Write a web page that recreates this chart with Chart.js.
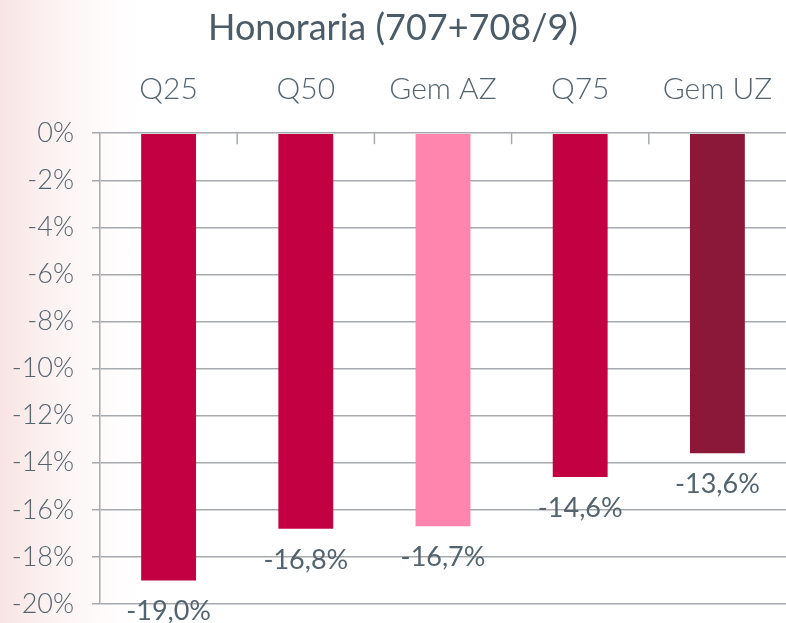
<!DOCTYPE html>
<html>
<head>
<meta charset="utf-8">
<script src="https://cdn.jsdelivr.net/npm/chart.js@4"></script>
<style>
  html, body { margin: 0; padding: 0; }
  body {
    width: 786px; height: 623px; overflow: hidden;
    background: linear-gradient(to right, #f8e4e4 0%, #fcf1f1 6%, #fefafa 12%, #ffffff 18%);
  }
  #wrap { position: relative; width: 786px; height: 623px; }
</style>
</head>
<body>
<div id="wrap"><canvas id="honChart"></canvas></div>
<script>
// Honoraria (707+708/9) - verandering per groep

const categories = ['Q25', 'Q50', 'Gem AZ', 'Q75', 'Gem UZ'];
const changes = [-19.0, -16.8, -16.7, -14.6, -13.6];
const barColors = ['#c30042', '#c30042', '#ff85ae', '#c30042', '#8c1839'];
const yTicks = [0, -2, -4, -6, -8, -10, -12, -14, -16, -18, -20];

const textColor = '#53646f';
const gridColor = '#a6aaae';
const fontFam = 'Lato, "Open Sans", sans-serif';

function fmtPct(v, dec) {
    return v.toFixed(dec).replace('.', ',') + '%';
}

// kleine streepjes tussen de categorieen (naar beneden, vanaf de 0%-lijn)
const catTicks = {
    id: 'catTicks',
    afterDraw(chart) {
        const x = chart.scales.x;
        const top = chart.chartArea.top;
        const ctx = chart.ctx;
        ctx.save();
        ctx.strokeStyle = gridColor;
        ctx.lineWidth = 1.5;
        for (let i = 1; i < categories.length; i++) {
            const px = (x.getPixelForValue(i - 1) + x.getPixelForValue(i)) / 2;
            ctx.beginPath();
            ctx.moveTo(px, top);
            ctx.lineTo(px, top + 11);
            ctx.stroke();
        }
        ctx.restore();
    }
};

// waardelabels onder de balken
const valueLabels = {
    id: 'valueLabels',
    afterDatasetsDraw(chart) {
        const ctx = chart.ctx;
        const meta = chart.getDatasetMeta(0);
        ctx.save();
        ctx.font = '400 27px ' + fontFam;
        ctx.fillStyle = textColor;
        ctx.textAlign = 'center';
        ctx.textBaseline = 'alphabetic';
        meta.data.forEach((bar, i) => {
            ctx.fillText(fmtPct(changes[i], 1), bar.x, bar.y + 40);
        });
        ctx.restore();
    }
};

const ctx = document.getElementById('honChart').getContext('2d');
new Chart(ctx, {
    type: 'bar',
    data: {
        labels: categories,
        datasets: [{
            data: changes,
            backgroundColor: barColors,
            borderWidth: 0,
            barPercentage: 0.4,
            categoryPercentage: 1.0
        }]
    },
    options: {
        responsive: true,
        maintainAspectRatio: false,
        animation: false,
        layout: { padding: { left: 0, right: 0, top: 0, bottom: 19 } },
        scales: {
            x: {
                position: 'top',
                grid: { display: false, drawTicks: false },
                border: { display: false },
                ticks: {
                    color: textColor,
                    font: { family: fontFam, size: 30, weight: 300 },
                    padding: 26
                },
                afterFit(scale) {
                    scale.height = 83;
                    scale.paddingLeft = 0;
                    scale.paddingRight = 0;
                }
            },
            y: {
                min: -20,
                max: 0,
                afterBuildTicks(scale) {
                    scale.ticks = yTicks.map(v => ({ value: v }));
                },
                grid: {
                    color: gridColor,
                    lineWidth: 1.5,
                    tickLength: 8
                },
                border: { display: true, color: gridColor, width: 1.5 },
                ticks: {
                    color: textColor,
                    font: { family: fontFam, size: 27, weight: 300 },
                    padding: 18,
                    callback: v => v + '%'
                },
                afterFit(scale) {
                    scale.width = 100;
                    scale.paddingTop = 0;
                    scale.paddingBottom = 0;
                }
            }
        },
        plugins: {
            legend: { display: false },
            tooltip: { enabled: false },
            title: {
                display: true,
                text: 'Honoraria (707+708/9)',
                color: '#4b5b67',
                font: { family: fontFam, size: 36, weight: 400 },
                padding: { top: 7, bottom: 0 }
            }
        }
    },
    plugins: [catTicks, valueLabels]
});
</script>
</body>
</html>
